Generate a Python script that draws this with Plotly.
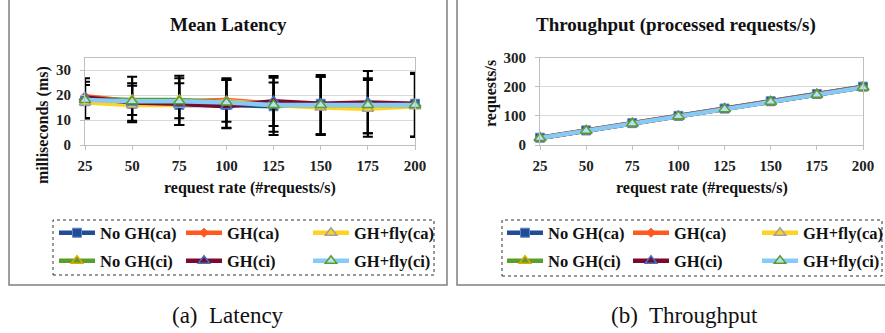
import plotly.graph_objects as go

W, H = 885, 333

# ---------------- data ----------------
rates = [25, 50, 75, 100, 125, 150, 175, 200]
series_names = ["No GH(ca)", "GH(ca)", "GH+fly(ca)", "No GH(ci)", "GH(ci)", "GH+fly(ci)"]

# mean latency (ms)
lat_nogh_ca = [17.5, 16.5, 16.0, 16.0, 15.5, 16.5, 15.5, 16.5]
lat_gh_ca = [19.5, 17.5, 17.5, 18.0, 16.5, 15.5, 16.0, 16.0]
lat_ghfly_ca = [17.0, 16.0, 16.0, 17.5, 16.0, 15.0, 14.5, 15.5]
lat_nogh_ci = [18.5, 18.0, 18.0, 17.0, 16.0, 16.0, 16.0, 16.0]
lat_gh_ci = [19.0, 17.0, 16.5, 15.5, 17.5, 16.5, 17.0, 16.5]
lat_ghfly_ci = [18.0, 17.5, 17.5, 17.0, 16.0, 16.0, 16.0, 16.0]

# latency error bars (up / down amounts)
err_up_nogh_ca = [9.2, 10.8, 11.7, 10.7, 12.1, 11.5, 14.1, 12.4]
err_dn_nogh_ca = [6.8, 7.4, 8.0, 9.3, 11.5, 12.5, 12.2, 13.2]
err_up_gh_ca = [5.8, 7.2, 9.2, 8.0, 10.4, 11.8, 10.7, 12.4]
err_dn_gh_ca = [8.8, 7.8, 9.5, 11.1, 11.2, 11.2, 11.3, 12.7]
err_up_ghfly_ca = [7.0, 7.7, 8.7, 8.5, 9.0, 12.3, 11.5, 12.9]
err_dn_ghfly_ca = [6.3, 4.0, 5.3, 8.2, 8.4, 10.7, 9.8, 12.2]

# throughput (requests/s)
thr_nogh_ca = [25, 50, 75, 100, 125, 150, 175, 200]
thr_gh_ca = [25, 50, 75, 100, 125, 149, 174, 199]
thr_ghfly_ca = [24, 49, 74, 99, 124, 149, 174, 198]
thr_nogh_ci = [24, 49, 74, 99, 124, 148, 173, 198]
thr_gh_ci = [24, 49, 74, 99, 124, 148, 173, 198]
thr_ghfly_ci = [24, 49, 74, 99, 123, 148, 172, 197]

lat_tickvals = [0, 10, 20, 30]
thr_tickvals = [0, 100, 200, 300]

# ---------------- styles ----------------
line_colors = ["#1F4E96", "#FF5A1F", "#FFD324", "#5A9E2A", "#7A0A2C", "#86CBF7"]
marker_styles = [
    dict(symbol="square", size=9, color="#1F4E96", line=dict(color="#5B86C5", width=1)),
    dict(symbol="diamond", size=7, color="#FF5A1F", line=dict(color="#FF5A1F", width=1)),
    dict(symbol="triangle-up", size=10, color="#FFD324", line=dict(color="#A0A0A0", width=1.5)),
    dict(symbol="triangle-up", size=10, color="#5A9E2A", line=dict(color="#E0A800", width=1.5)),
    dict(symbol="triangle-up", size=10, color="#7A0A2C", line=dict(color="#4472C4", width=1.5)),
    dict(symbol="triangle-up", size=10, color="#B5E0F7", line=dict(color="#5A9E2A", width=1.5)),
]

lat_series = [lat_nogh_ca, lat_gh_ca, lat_ghfly_ca, lat_nogh_ci, lat_gh_ci, lat_ghfly_ci]
thr_series = [thr_nogh_ca, thr_gh_ca, thr_ghfly_ca, thr_nogh_ci, thr_gh_ci, thr_ghfly_ci]
lat_errors = [
    (err_up_nogh_ca, err_dn_nogh_ca),
    (err_up_gh_ca, err_dn_gh_ca),
    (err_up_ghfly_ca, err_dn_ghfly_ca),
    None, None, None,
]

FONT = "Liberation Serif"
fig = go.Figure()

def legend_id(k):
    return "legend" if k == 0 else f"legend{k + 1}"

for i, name in enumerate(series_names):
    err = lat_errors[i]
    ey = None
    if err is not None:
        ey = dict(type="data", symmetric=False, array=err[0], arrayminus=err[1],
                  color="black", thickness=2.2, width=5)
    fig.add_trace(go.Scatter(
        x=rates, y=lat_series[i], name=name, mode="lines+markers",
        line=dict(color=line_colors[i], width=4.5), marker=marker_styles[i],
        error_y=ey, cliponaxis=False, xaxis="x", yaxis="y",
        legend=legend_id(i),
    ))

for i, name in enumerate(series_names):
    fig.add_trace(go.Scatter(
        x=rates, y=thr_series[i], name=name, mode="lines+markers",
        line=dict(color=line_colors[i], width=4.5), marker=marker_styles[i],
        cliponaxis=False, xaxis="x2", yaxis="y2",
        legend=legend_id(6 + i),
    ))

def px_x(p):
    return p / W

def px_y(p):
    return 1 - p / H

tickfont = dict(family=FONT, size=15, color="#222222", weight="bold")
axis_common = dict(
    gridcolor="#D9D9D9", gridwidth=1,
    showline=True, linecolor="#BFBFBF", linewidth=1, mirror=True,
    ticks="outside", ticklen=4, tickcolor="#BFBFBF",
    tickfont=tickfont, zeroline=False, fixedrange=True,
)

ydom = [px_y(145), px_y(57.5)]
fig.update_layout(
    width=W, height=H, margin=dict(l=0, r=0, t=0, b=0, autoexpand=False),
    paper_bgcolor="white", plot_bgcolor="white",
    font=dict(family=FONT, color="#222222"),
    xaxis=dict(domain=[px_x(85), px_x(415)], range=[25, 200], tickvals=rates,
               anchor="y", ticklabelstandoff=3, showgrid=False, **axis_common),
    yaxis=dict(domain=ydom, range=[0, 35], tickvals=lat_tickvals, anchor="x",
               ticklabelstandoff=6, showgrid=True, **axis_common),
    xaxis2=dict(domain=[px_x(540), px_x(863)], range=[25, 200], tickvals=rates,
                anchor="y2", ticklabelstandoff=3, showgrid=False, **axis_common),
    yaxis2=dict(domain=ydom, range=[0, 300], tickvals=thr_tickvals, anchor="x2",
                ticklabelstandoff=6, showgrid=True, **axis_common),
    showlegend=True,
)

# one legend per entry, placed on the reference's 3x2 grid
col_left = [59, 186, 313]
col_right = [507, 633, 762]
row_y = [233, 261]
leg_common = dict(orientation="h", xanchor="left", yanchor="middle",
                  font=dict(family=FONT, size=16.5, color="#111111", weight="bold"),
                  itemwidth=36, bgcolor="rgba(0,0,0,0)",
                  borderwidth=0, itemclick=False, itemdoubleclick=False)
LEG_DX = 5
legends = {}
for k in range(12):
    cols = col_left if k < 6 else col_right
    j = k % 6
    legends[legend_id(k)] = dict(x=px_x(cols[j % 3] - LEG_DX), y=px_y(row_y[j // 3]), **leg_common)
fig.update_layout(**legends)

shapes = [
    dict(type="rect", xref="paper", yref="paper", x0=px_x(9), x1=px_x(447), y0=px_y(285), y1=px_y(-3),
         line=dict(color="#7F7F7F", width=1.5)),
    dict(type="rect", xref="paper", yref="paper", x0=px_x(457), x1=px_x(886), y0=px_y(285), y1=px_y(-3),
         line=dict(color="#7F7F7F", width=1.5)),
    dict(type="rect", xref="paper", yref="paper", x0=px_x(53), x1=px_x(434), y0=px_y(275), y1=px_y(220),
         line=dict(color="#333333", width=1, dash="dot")),
    dict(type="rect", xref="paper", yref="paper", x0=px_x(502), x1=px_x(882), y0=px_y(276), y1=px_y(220),
         line=dict(color="#333333", width=1, dash="dot")),
]

ann_font_title = dict(family=FONT, size=19, color="#111111", weight="bold")
ann_font_axis = dict(family=FONT, size=16, color="#111111", weight="bold")
annotations = [
    dict(text="Mean Latency", x=px_x(228), y=px_y(25), font=ann_font_title),
    dict(text="Throughput (processed requests/s)", x=px_x(676), y=px_y(25), font=ann_font_title),
    dict(text="request rate (#requests/s)", x=px_x(250), y=px_y(188), font=ann_font_axis),
    dict(text="request rate (#requests/s)", x=px_x(702), y=px_y(188), font=ann_font_axis),
    dict(text="milliseconds (ms)", x=px_x(43), y=px_y(125), font=ann_font_axis, textangle=-90),
    dict(text="requests/s", x=px_x(491), y=px_y(93), font=ann_font_axis, textangle=-90),
    dict(text="(a)  Latency", x=px_x(228), y=px_y(315), font=dict(family=FONT, size=23, color="#111111")),
    dict(text="(b)  Throughput", x=px_x(684), y=px_y(315), font=dict(family=FONT, size=23, color="#111111")),
]
for a in annotations:
    a.update(xref="paper", yref="paper", showarrow=False, xanchor="center", yanchor="middle")

fig.update_layout(shapes=shapes, annotations=annotations)

# remove the browser's default 8px page margin so the figure fills the window exactly
fig.write_html("out.html", config={"displayModeBar": False},
               post_script="document.body.style.margin='0px';")
